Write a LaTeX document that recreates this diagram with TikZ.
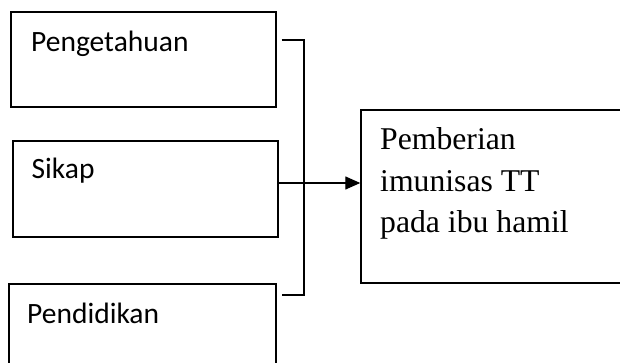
\documentclass[tikz,border=0pt]{standalone}
\usepackage{fontspec}
\setmainfont{Liberation Serif}
\newfontfamily\calib{Carlito}
\usetikzlibrary{arrows.meta}
\begin{document}
\begin{tikzpicture}[x=1pt,y=-1pt,
  box/.style={draw, line width=1.4pt, inner sep=0pt, rectangle},
  sanslabel/.style={anchor=base west, inner sep=0pt, font=\calib\fontsize{29.5}{35}\selectfont},
  link/.style={line width=1.3pt},
]
\clip (0,0) rectangle (620,363);
\fill[white] (0,0) rectangle (620,363);
% boxes
\node[box, minimum width=265pt, minimum height=95pt] (b1) at (143.5,59.5) {};
\node[box, minimum width=265pt, minimum height=96pt] (b2) at (145.5,189) {};
\node[box, minimum width=267pt, minimum height=95pt] (b3) at (142.5,331.5) {};
\node[box, minimum width=280pt, minimum height=173pt] (b4) at (501,196.5) {};
% labels
\node[sanslabel] (l1) at (31,52) {Pengetahuan};
\node[sanslabel] (l2) at (31.5,179) {Sikap};
\node[sanslabel] (l3) at (27,323) {Pendidikan};
\node[anchor=base west, inner sep=0pt, align=left,
      font=\fontsize{31.7}{41.5}\selectfont] (l4) at (380,233)
  {Pemberian\\imunisas TT\\pada ibu hamil};
% bracket
\coordinate (t1) at ([xshift=5pt]b1.east |- 0,40);
\coordinate (t2) at (304,40);
\coordinate (t3) at (304,295);
\coordinate (t4) at ([xshift=5pt]b3.east |- 0,295);
\draw[link] (t1) -- (t2) -- (t3) -- (t4);
% arrow
\draw[link, -{Triangle[length=15pt,width=13pt]}] (b2.east |- 0,183) -- (b4.west |- 0,183);
\end{tikzpicture}
\end{document}
